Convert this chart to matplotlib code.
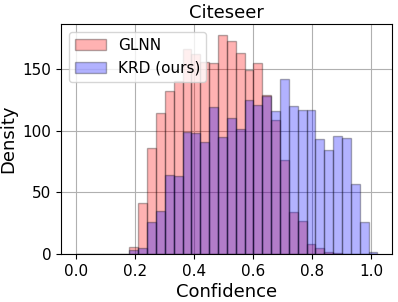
import numpy as np
import matplotlib
matplotlib.use('Agg')
import matplotlib.pyplot as plt

# histogram bins (width 0.03 from 0 to 1.02)
bin_edges = np.linspace(0.0, 1.02, 35)

glnn_density = [0, 0, 0, 0, 0, 0,
                6, 41, 86, 114, 132, 140, 166, 162, 156, 155,
                177.5, 173, 163, 149, 155, 129, 109, 76, 34, 27,
                8, 4.6, 1.6, 0.5, 0, 0, 0, 0]
krd_density = [0, 0, 0, 0, 0, 0,
               3.5, 4.5, 26, 35, 64, 63, 98.6, 97.8, 91, 119,
               95, 110, 101, 125, 121, 128, 116, 142, 120, 117,
               117, 93, 84, 96, 94, 57, 26, 1.5]

x_ticks = [0.0, 0.2, 0.4, 0.6, 0.8, 1.0]
y_ticks = [0, 50, 100, 150]

centers = (bin_edges[:-1] + bin_edges[1:]) / 2

fig = plt.figure(figsize=(3.98, 3.02), dpi=100)
ax = fig.add_axes([0.154, 0.159, 0.832, 0.761])

ax.hist(centers, bins=bin_edges, weights=glnn_density, color='red',
        alpha=0.3, edgecolor='black', linewidth=1, label='GLNN')
ax.hist(centers, bins=bin_edges, weights=krd_density, color='blue',
        alpha=0.3, edgecolor='black', linewidth=1, label='KRD (ours)')

ax.set_xticks(x_ticks)
ax.set_yticks(y_ticks)
ax.tick_params(labelsize=11)
ax.grid(True)
ax.set_axisbelow(True)

ax.set_title('Citeseer', fontsize=13, pad=4.5)
ax.set_xlabel('Confidence', fontsize=13, labelpad=3)
ax.set_ylabel('Density', fontsize=13, labelpad=4)
ax.legend(loc='upper left', fontsize=11)

fig.savefig('out.png', dpi=100)
